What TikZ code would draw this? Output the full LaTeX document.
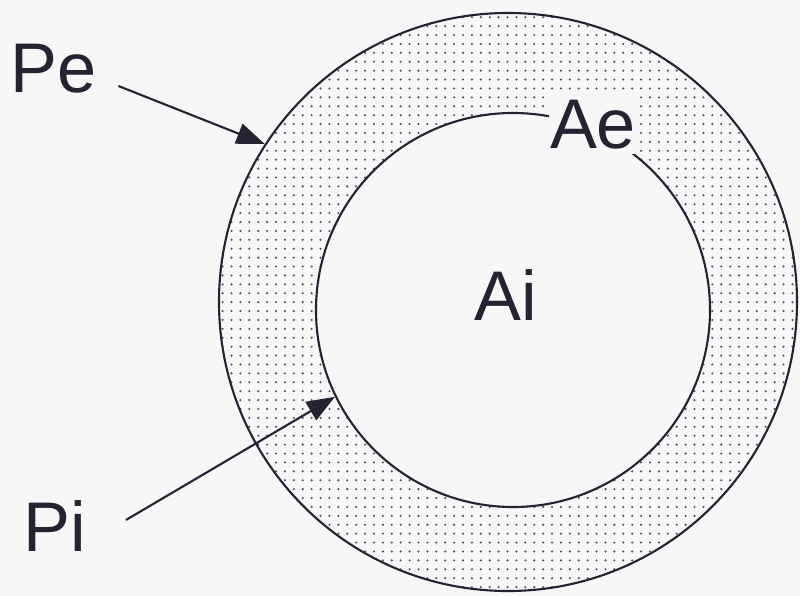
\documentclass[tikz,border=0pt]{standalone}
\usepackage{fontspec}
\setmainfont{Liberation Sans}
\usetikzlibrary{arrows.meta, patterns.meta}
\definecolor{paper}{RGB}{247,247,248}
\definecolor{ink}{RGB}{35,35,50}
\definecolor{speckle}{RGB}{95,70,90}

\begin{document}
\begin{tikzpicture}[x=0.03cm, y=-0.03cm,
    ring/.style={circle, draw=ink, line width=1.8pt, inner sep=0pt},
    lbl/.style={inner sep=0pt, text=ink, font=\fontsize{60}{60}\selectfont},
    ptr/.style={draw=ink, line width=1.8pt, -{Triangle[length=24pt, width=18pt]}}]
    \fill[paper] (0,0) rectangle (800,596);
    \useasboundingbox (0,0) rectangle (800,596);
    \coordinate (oc) at (508,302);
    \coordinate (ic) at (513,310);
    % dotted band between the two walls
    \fill[pattern={Dots[radius=1pt, distance=7.6pt]}, pattern color=speckle, even odd rule]
        (oc) circle[radius=289] (ic) circle[radius=197];
    \node[ring, minimum size=17.34cm] (outer) at (oc) {};
    \node[ring, minimum size=11.82cm] (inner) at (ic) {};
    \node[lbl, fill=paper, minimum width=2.67cm, minimum height=1.74cm] (Ae) at (593,125) {Ae};
    \node[lbl, anchor=base west] (Ai) at (474,321) {Ai};
    \node[lbl, anchor=base west] (Pe) at (10,93) {Pe};
    \node[lbl, anchor=base west] (Pi) at (23,552) {Pi};
    \draw[ptr] ([shift={(22,-7)}]Pe.base east) -- (outer.147);
    \draw[ptr] ([shift={(40,-32)}]Pi.base east) -- (inner.206);
\end{tikzpicture}
\end{document}
